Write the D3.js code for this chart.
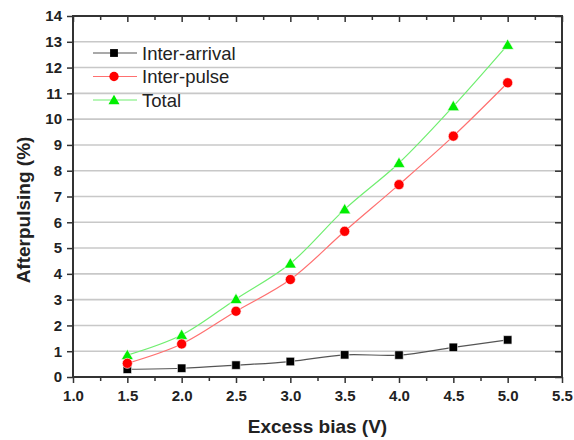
<!DOCTYPE html>
<html><head><meta charset="utf-8">
<script src="https://cdn.jsdelivr.net/npm/d3@7"></script>
<style>body{margin:0;background:#fff;}svg{display:block;}</style>
</head><body>
<svg id="c" width="574" height="440"></svg>
<script>
const xValues = [1.5, 2.0, 2.5, 3.0, 3.5, 4.0, 4.5, 5.0];
const interArrival = [0.30, 0.34, 0.46, 0.60, 0.86, 0.85, 1.15, 1.44];
const interPulse = [0.53, 1.28, 2.55, 3.78, 5.65, 7.46, 9.34, 11.41];
const total = [0.85, 1.63, 3.02, 4.40, 6.50, 8.30, 10.50, 12.88];
const xTicks = [1.0, 1.5, 2.0, 2.5, 3.0, 3.5, 4.0, 4.5, 5.0, 5.5];
const xMinorTicks = [1.25, 1.75, 2.25, 2.75, 3.25, 3.75, 4.25, 4.75, 5.25];
const yTicks = [0,1,2,3,4,5,6,7,8,9,10,11,12,13,14];
const seriesNames = ["Inter-arrival", "Inter-pulse", "Total"];

const svg = d3.select("#c");
const L = 73, R = 562, T = 16, B = 377;
const x = d3.scaleLinear().domain([1.0, 5.5]).range([L, R]);
const y = d3.scaleLinear().domain([0, 14]).range([B, T]);
const font = "'Liberation Sans', Arial, sans-serif";
const frame = "#333";

// gridlines
svg.append("g").selectAll("line").data(yTicks.filter(d => d > 0 && d < 14)).join("line")
  .attr("x1", L).attr("x2", R).attr("y1", d => y(d)).attr("y2", d => y(d))
  .attr("stroke", "#c8c8c8").attr("stroke-width", 1.6);

// axes
function styleAxis(g) {
  g.select(".domain").remove();
  g.selectAll(".tick line").attr("stroke", frame).attr("stroke-width", 1.5);
  g.selectAll(".tick text").attr("font-family", font).attr("font-weight", "bold")
    .attr("font-size", "15px").attr("fill", "#222");
}
const gb = svg.append("g").attr("transform", `translate(0,${B})`)
  .call(d3.axisBottom(x).tickValues(xTicks).tickFormat(d3.format(".1f")).tickSize(6).tickPadding(7));
styleAxis(gb);
svg.append("g").attr("transform", `translate(0,${B})`)
  .call(d3.axisBottom(x).tickValues(xMinorTicks).tickFormat("").tickSize(4)).call(styleAxis);
svg.append("g").attr("transform", `translate(0,${T})`)
  .call(d3.axisBottom(x).tickValues(xTicks).tickFormat("").tickSize(6)).call(styleAxis);
svg.append("g").attr("transform", `translate(0,${T})`)
  .call(d3.axisBottom(x).tickValues(xMinorTicks).tickFormat("").tickSize(4)).call(styleAxis);
const gl = svg.append("g").attr("transform", `translate(${L},0)`)
  .call(d3.axisLeft(y).tickValues(yTicks).tickFormat(d3.format("d")).tickSize(6).tickPadding(5));
styleAxis(gl);
svg.append("g").attr("transform", `translate(${R},0)`)
  .call(d3.axisLeft(y).tickValues(yTicks).tickFormat("").tickSize(7)).call(styleAxis);

// frame
svg.append("rect").attr("x", L).attr("y", T).attr("width", R - L).attr("height", B - T)
  .attr("fill", "none").attr("stroke", frame).attr("stroke-width", 2);

// titles
svg.append("text").attr("x", (L + R) / 2).attr("y", 433).attr("text-anchor", "middle")
  .attr("font-family", font).attr("font-weight", "bold").attr("font-size", "19px").attr("fill", "#222")
  .text("Excess bias (V)");
svg.append("text").attr("transform", "translate(30,210) rotate(-90)").attr("text-anchor", "middle")
  .attr("font-family", font).attr("font-weight", "bold").attr("font-size", "19px").attr("fill", "#222")
  .text("Afterpulsing (%)");

// series
const series = [
  {name: seriesNames[2], vals: total, line: "#70ee70", fill: "#00ee00", shape: d3.symbolTriangle, size: 62},
  {name: seriesNames[0], vals: interArrival, line: "#555", fill: "#000", shape: d3.symbolSquare, size: 72},
  {name: seriesNames[1], vals: interPulse, line: "#ff7070", fill: "#ff0000", shape: d3.symbolCircle, size: 80},
];
const lineGen = d3.line().x((d, i) => x(xValues[i])).y(d => y(d)).curve(d3.curveCatmullRom.alpha(0.5));
series.forEach(s => {
  svg.append("path").attr("d", lineGen(s.vals)).attr("fill", "none").attr("stroke", s.line).attr("stroke-width", 1.2);
});
series.forEach(s => {
  svg.append("g").selectAll("path").data(s.vals).join("path")
    .attr("transform", (d, i) => `translate(${x(xValues[i])},${y(d) + (s.shape === d3.symbolTriangle ? 1 : 0)})`)
    .attr("d", d3.symbol().type(s.shape).size(s.size))
    .attr("fill", s.fill).attr("stroke", "#fff").attr("stroke-width", 0.6);
});

// legend
const legendOrder = [series[1], series[2], series[0]];
const lg = svg.append("g");
legendOrder.forEach((s, i) => {
  const ly = 53 + i * 23.5;
  lg.append("line").attr("x1", 93).attr("x2", 137).attr("y1", ly).attr("y2", ly)
    .attr("stroke", s.line).attr("stroke-width", 1.2);
  lg.append("path").attr("transform", `translate(114,${ly + (s.shape === d3.symbolTriangle ? 1 : 0)})`)
    .attr("d", d3.symbol().type(s.shape).size(s.size * 0.85)).attr("fill", s.fill);
  lg.append("text").attr("x", 142).attr("y", ly + 6.5).attr("font-family", font)
    .attr("font-size", "18.5px").attr("fill", "#222").text(s.name);
});
</script>
</body></html>
